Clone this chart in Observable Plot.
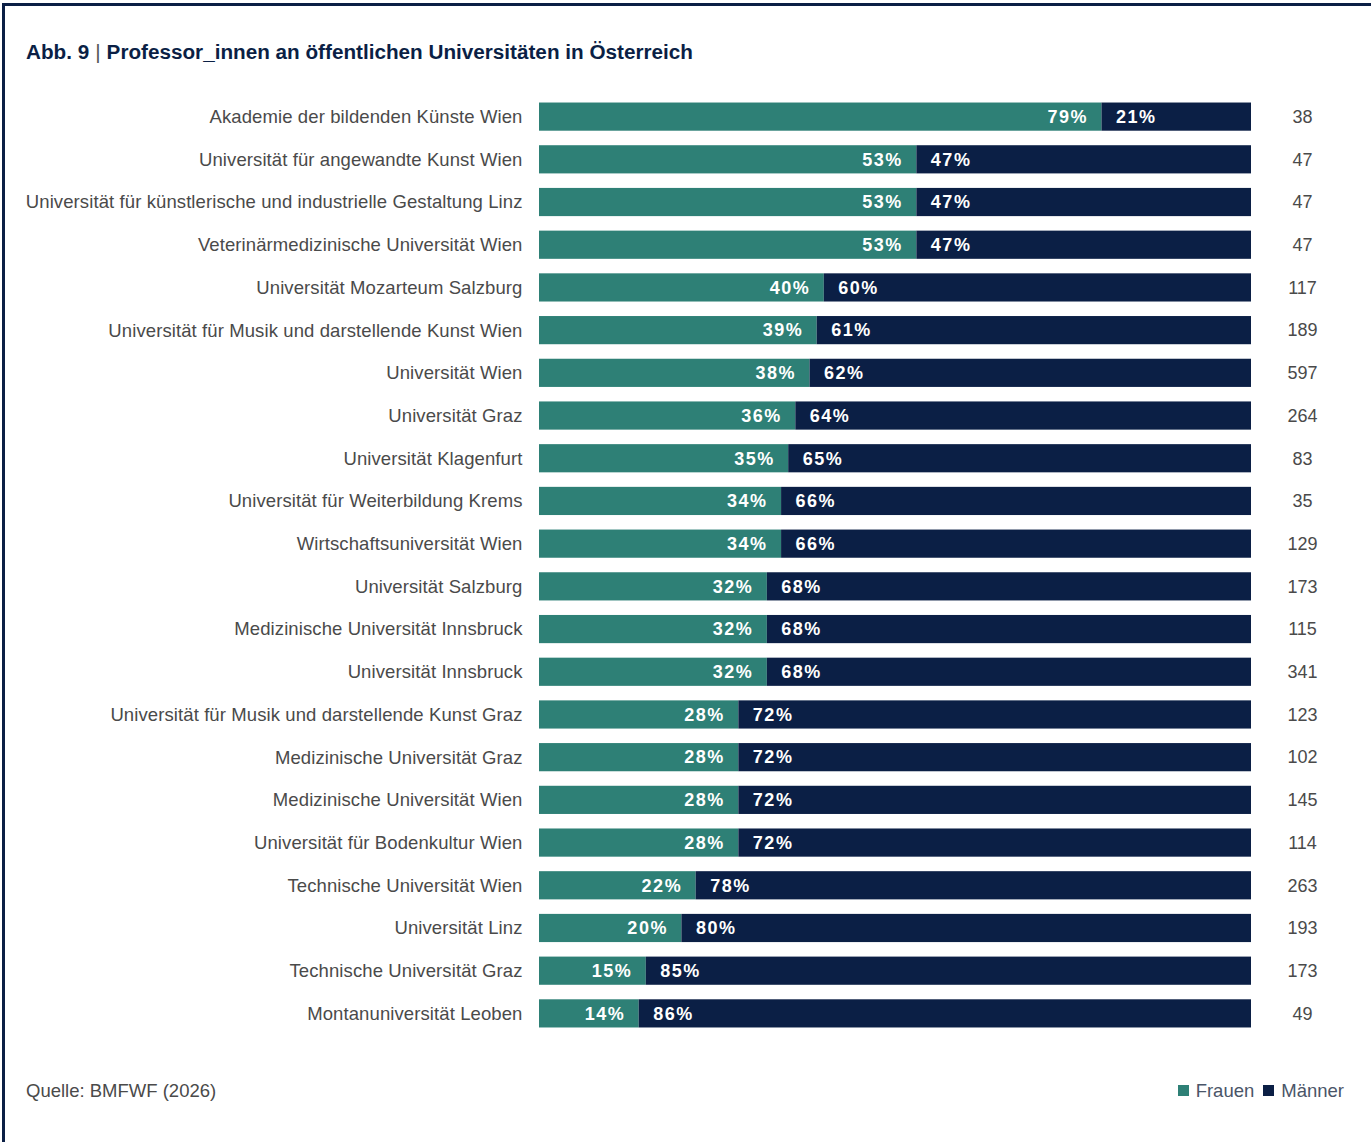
<!DOCTYPE html>
<html>
<head>
<meta charset="utf-8">
<script src="https://cdn.jsdelivr.net/npm/d3@7"></script>
<script src="https://cdn.jsdelivr.net/npm/@observablehq/plot@0.6"></script>
<style>
  html, body { margin: 0; padding: 0; background: #fff; }
  body { width: 1371px; height: 1142px; overflow: hidden; position: relative; font-family: "Liberation Sans", Arial, sans-serif; }
  #frame { position: absolute; left: 2px; top: 3px; width: 1369px; height: 1139px; border-top: 3px solid #0b1f45; border-left: 3px solid #0b1f45; box-sizing: border-box; }
  #title { position: absolute; left: 26px; top: 40px; font-size: 20.7px; font-weight: bold; color: #0b1f45; white-space: nowrap; }
  #title .sep { font-weight: normal; color: #555; margin: 0 6px; }
  #chart { position: absolute; left: 0; top: 80px; }
  #source { position: absolute; left: 26px; top: 1080px; font-size: 18.5px; color: #4a4a4a; }
  #legend { position: absolute; right: 27px; top: 1080px; font-size: 18.5px; color: #4a5568; white-space: nowrap; }
  #legend .sw { display: inline-block; width: 11px; height: 11px; margin: 0 7px 0 9px; vertical-align: 1px; }
  #chart svg text.pct { letter-spacing: 1.5px; }
</style>
</head>
<body>
<div id="frame"></div>
<div id="title">Abb. 9<span class="sep">|</span>Professor_innen an öffentlichen Universitäten in Österreich</div>
<div id="chart"></div>
<div id="source">Quelle: BMFWF (2026)</div>
<div id="legend"><span class="sw" style="background:#2e8076"></span>Frauen<span class="sw" style="background:#0b1f45"></span>Männer</div>
<script>
const universities = [
  "Akademie der bildenden Künste Wien",
  "Universität für angewandte Kunst Wien",
  "Universität für künstlerische und industrielle Gestaltung Linz",
  "Veterinärmedizinische Universität Wien",
  "Universität Mozarteum Salzburg",
  "Universität für Musik und darstellende Kunst Wien",
  "Universität Wien",
  "Universität Graz",
  "Universität Klagenfurt",
  "Universität für Weiterbildung Krems",
  "Wirtschaftsuniversität Wien",
  "Universität Salzburg",
  "Medizinische Universität Innsbruck",
  "Universität Innsbruck",
  "Universität für Musik und darstellende Kunst Graz",
  "Medizinische Universität Graz",
  "Medizinische Universität Wien",
  "Universität für Bodenkultur Wien",
  "Technische Universität Wien",
  "Universität Linz",
  "Technische Universität Graz",
  "Montanuniversität Leoben"
];
const frauen = [79, 53, 53, 53, 40, 39, 38, 36, 35, 34, 34, 32, 32, 32, 28, 28, 28, 28, 22, 20, 15, 14];
const maenner = [21, 47, 47, 47, 60, 61, 62, 64, 65, 66, 66, 68, 68, 68, 72, 72, 72, 72, 78, 80, 85, 86];
const gesamt = [38, 47, 47, 47, 117, 189, 597, 264, 83, 35, 129, 173, 115, 341, 123, 102, 145, 114, 263, 193, 173, 49];

const GREEN = "#2e8076";
const NAVY = "#0b1f45";

const rows = universities.map((u, i) => ({uni: u, f: frauen[i], m: maenner[i], n: gesamt[i]}));

const chart = Plot.plot({
  width: 1371,
  height: 970,
  marginLeft: 539,
  marginRight: 120,
  marginTop: 8,
  marginBottom: 8,
  style: {fontFamily: "'Liberation Sans', Arial, sans-serif", fontSize: "17px", background: "transparent"},
  x: {domain: [0, 100], axis: null},
  y: {domain: universities, padding: 0.34, round: false, label: null},
  marks: [
    Plot.barX(rows, {y: "uni", x1: 0, x2: "f", fill: GREEN}),
    Plot.barX(rows, {y: "uni", x1: "f", x2: d => d.f + d.m, fill: NAVY}),
    Plot.text(rows, {y: "uni", x: "f", text: d => d.f + "%", textAnchor: "end", dx: -14, fill: "white", fontWeight: "bold", fontSize: 18, className: "pct"}),
    Plot.text(rows, {y: "uni", x: "f", text: d => d.m + "%", textAnchor: "start", dx: 14, fill: "white", fontWeight: "bold", fontSize: 18, className: "pct"}),
    Plot.text(rows, {y: "uni", x: d => d.f + d.m, text: d => String(d.n), textAnchor: "middle", dx: 51, fill: "#4a4a4a", fontSize: 18}),
    Plot.axisY({tickSize: 0, tickPadding: 17, color: "#4a4a4a", fontSize: 18.5, label: null, className: "ylab"})
  ]
});
chart.querySelectorAll("g[aria-label='text'] text").forEach(t => {
  if (t.closest("g").getAttribute("fill") === "white") t.style.letterSpacing = "1.5px";
});
chart.querySelectorAll("g[aria-label='y-axis tick label'] text").forEach(t => { t.style.letterSpacing = "0.1px"; });
document.getElementById("chart").appendChild(chart);
</script>
</body>
</html>
